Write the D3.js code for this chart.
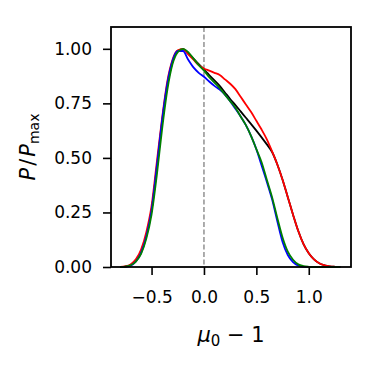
<!DOCTYPE html>
<html>
<head>
<meta charset="utf-8">
<title>P/Pmax</title>
<script src="https://cdn.jsdelivr.net/npm/d3@7"></script>
<style>
  body { margin: 0; background: #fff; }
  text { font-family: "DejaVu Sans", sans-serif; }
</style>
</head>
<body>
<script>
// x grid shared by all curves (mu0 - 1)
var xs = [-0.80, -0.75, -0.70, -0.65, -0.60, -0.55, -0.50, -0.45, -0.40, -0.35,
          -0.30, -0.25, -0.20, -0.15, -0.10, -0.05, 0.00, 0.05, 0.10, 0.15,
          0.20, 0.25, 0.30, 0.35, 0.40, 0.45, 0.50, 0.55, 0.60, 0.65,
          0.70, 0.75, 0.80, 0.85, 0.90, 0.95, 1.00, 1.05, 1.10, 1.15,
          1.20, 1.25, 1.30];

var blackY = [0, 0.002, 0.009, 0.03, 0.07, 0.145, 0.26, 0.45, 0.66, 0.83,
              0.94, 0.99, 0.999, 0.978, 0.955, 0.93, 0.905, 0.88, 0.855, 0.83,
              0.80, 0.77, 0.742, 0.713, 0.684, 0.655, 0.625, 0.594, 0.562, 0.527,
              0.47, 0.40, 0.32, 0.24, 0.165, 0.105, 0.063, 0.035, 0.017, 0.008,
              0.003, 0.001, 0];
var redY = [0, 0.003, 0.012, 0.035, 0.08, 0.16, 0.28, 0.48, 0.68, 0.85,
            0.95, 0.993, 0.998, 0.975, 0.95, 0.925, 0.91, 0.90, 0.89, 0.88,
            0.86, 0.84, 0.815, 0.78, 0.745, 0.71, 0.67, 0.63, 0.585, 0.53,
            0.47, 0.40, 0.32, 0.24, 0.165, 0.105, 0.063, 0.035, 0.017, 0.008,
            0.003, 0.001, 0];
var blueY = [0, 0.001, 0.006, 0.025, 0.065, 0.14, 0.26, 0.46, 0.67, 0.84,
             0.945, 0.99, 0.99, 0.95, 0.915, 0.89, 0.872, 0.85, 0.83, 0.813,
             0.79, 0.76, 0.725, 0.69, 0.65, 0.60, 0.54, 0.465, 0.39, 0.31,
             0.21, 0.115, 0.055, 0.022, 0.006, 0.001, 0, 0, 0, 0,
             0, 0, 0];
var greenY = [0, 0.002, 0.008, 0.025, 0.06, 0.13, 0.24, 0.42, 0.63, 0.81,
              0.93, 0.985, 1.0, 0.985, 0.955, 0.925, 0.90, 0.87, 0.845, 0.82,
              0.79, 0.76, 0.73, 0.69, 0.65, 0.60, 0.54, 0.48, 0.40, 0.32,
              0.225, 0.135, 0.07, 0.033, 0.012, 0.004, 0.001, 0, 0, 0,
              0, 0, 0];

var xTicks = [-0.5, 0.0, 0.5, 1.0];
var yTicks = [0, 0.25, 0.5, 0.75, 1.0];

var series = [
  { color: "black", y: blackY },
  { color: "red", y: redY },
  { color: "blue", y: blueY },
  { color: "green", y: greenY }
];

var W = 379, H = 369;
var mLeft = 111, mRight = 351, mTop = 27, mBottom = 267;

var svg = d3.select("body").append("svg")
  .attr("width", W).attr("height", H);

var x = d3.scaleLinear().domain([-0.887, 1.403]).range([mLeft, mRight]);
var y = d3.scaleLinear().domain([0, 1.1]).range([mBottom, mTop]);

// dashed line at zero
svg.append("line")
  .attr("x1", x(0)).attr("x2", x(0))
  .attr("y1", mTop).attr("y2", mBottom)
  .attr("stroke", "#808080").attr("stroke-width", 1.3)
  .attr("stroke-dasharray", "5,2.5");

var line = d3.line()
  .x(function (d, i) { return x(xs[i]); })
  .y(function (d) { return y(d); })
  .curve(d3.curveMonotoneX);

svg.append("g")
  .selectAll("path")
  .data(series)
  .enter()
  .append("path")
  .attr("d", function (s) { return line(s.y); })
  .attr("fill", "none")
  .attr("stroke", function (s) { return s.color; })
  .attr("stroke-width", 1.8);

// axes
var xAxis = d3.axisBottom(x).tickValues(xTicks).tickSize(8).tickPadding(16)
  .tickFormat(function (d) { return d3.format(".1f")(d).replace("-", "\u2212"); });
var yAxis = d3.axisLeft(y).tickValues(yTicks).tickSize(8).tickPadding(11)
  .tickFormat(d3.format(".2f"));

var gx = svg.append("g").attr("transform", "translate(0," + mBottom + ")").call(xAxis);
var gy = svg.append("g").attr("transform", "translate(" + mLeft + ",0)").call(yAxis);
[gx, gy].forEach(function (g) {
  g.attr("font-size", 17).attr("font-family", "DejaVu Sans");
  g.select(".domain").remove();
  g.selectAll(".tick line").attr("stroke", "black").attr("stroke-width", 1.6);
  g.selectAll(".tick text").attr("fill", "black");
});

// frame
svg.append("rect")
  .attr("x", mLeft).attr("y", mTop)
  .attr("width", mRight - mLeft).attr("height", mBottom - mTop)
  .attr("fill", "none").attr("stroke", "black").attr("stroke-width", 1.8);

// x label
var xl = svg.append("text")
  .attr("x", (mLeft + mRight) / 2).attr("y", 342)
  .attr("text-anchor", "middle")
  .style("font-size", "21px");
xl.append("tspan").style("font-style", "italic").text("\u03bc");
xl.append("tspan").attr("dy", 4).style("font-size", "15px").text("0");
xl.append("tspan").attr("dy", -4).text("\u00a0\u2212\u00a01");

// y label
var yl = svg.append("text")
  .attr("transform", "translate(35," + (mTop + mBottom) / 2 + ") rotate(-90)")
  .attr("text-anchor", "middle")
  .style("font-size", "21px");
yl.append("tspan").style("font-style", "italic").text("P");
yl.append("tspan").attr("dx", 2).text("/");
yl.append("tspan").attr("dx", 2).style("font-style", "italic").text("P");
yl.append("tspan").attr("dy", 4).style("font-size", "14px").text("max");
</script>
</body>
</html>
